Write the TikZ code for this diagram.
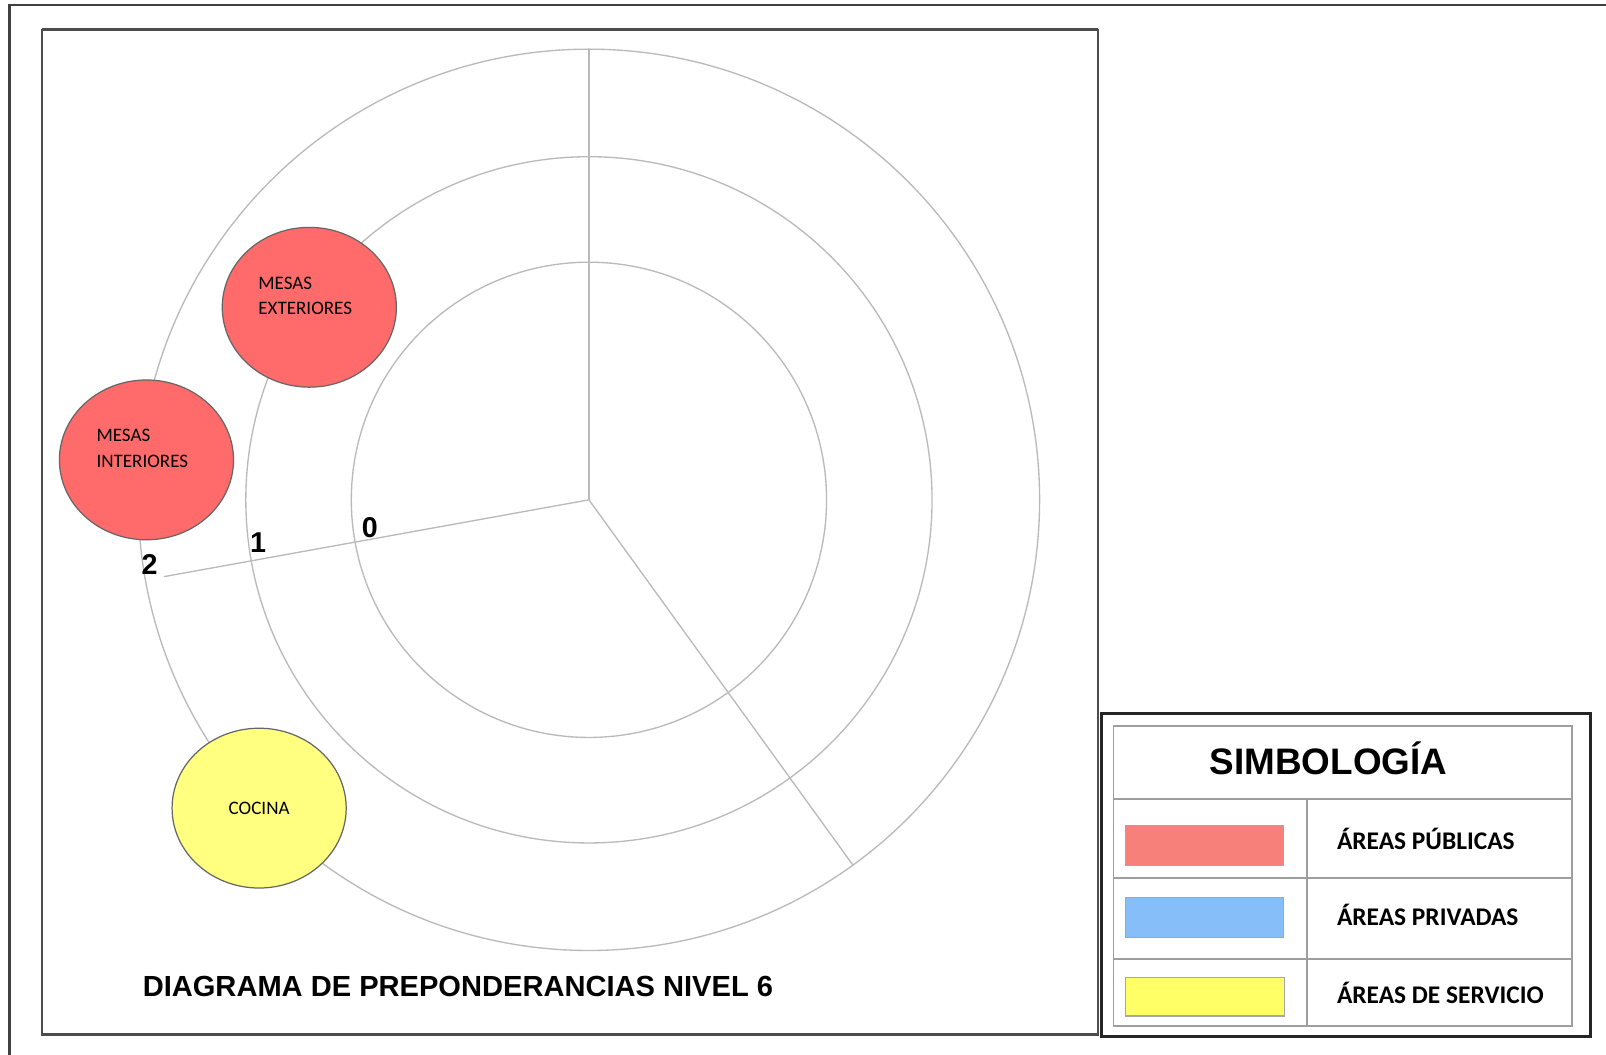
\documentclass[tikz,border=0pt]{standalone}
\usepackage{fontspec}
\setmainfont{Carlito}
\newfontfamily\arialfont{Liberation Sans}
\usetikzlibrary{shapes.geometric}
\definecolor{pubred}{HTML}{FF6B6B}
\definecolor{servyellow}{HTML}{FFFF80}
\definecolor{swred}{HTML}{F7807A}
\definecolor{swblue}{HTML}{85BEF8}
\definecolor{swyellow}{HTML}{FFFF66}

\begin{document}
\begin{tikzpicture}[x=0.5pt,y=0.5pt,
  ring/.style={draw=black!27,line width=0.65pt},
  zone/.style={ellipse,draw=black!60,line width=0.6pt,minimum width=85pt,minimum height=78pt,inner sep=0pt,align=left,font=\fontsize{9.3}{12.5}\selectfont},
  twoline/.style={text depth=11pt},
  level/.style={font=\arialfont\bfseries\fontsize{14}{14}\selectfont},
  grid/.style={draw=black!38,line width=0.8pt},
  swatch/.style={draw=black!35,line width=0.6pt},
  entry/.style={anchor=west,inner sep=0pt,font=\bfseries\fontsize{12.4}{14}\selectfont}]
\useasboundingbox (0,0) rectangle (1568,1030);
\fill[white] (0,0) rectangle (1568,1030);
\draw[black!75,line width=1.3pt] (9,-20) -- (9,1025) -- (1600,1025);
\draw[black!70,line width=1pt] (41,20) rectangle (1072,1001); \draw[black!70,line width=1.6pt] (41,1001) -- (1072,1001);
% rings and sectors
\coordinate (c) at (575,542);
\foreach \r in {232,335,440} \draw[ring] (c) circle (\r);
\coordinate (top) at (575,982); \coordinate (low) at (833,185); \coordinate (west) at (160,467);
\draw[ring] (c) -- (top); \draw[ring] (c) -- (low); \draw[ring] (c) -- (west);
\node[level] (n0) at (361,515) {0}; \node[level] (n1) at (252,500) {1}; \node[level] (n2) at (146,479) {2};
% zones
\node[zone,twoline,fill=pubred] (ext) at (302,730) {MESAS\\EXTERIORES\hspace*{4pt}};
\node[zone,twoline,fill=pubred] (int) at (143,581) {MESAS\\INTERIORES\hspace*{4pt}};
\node[zone,fill=servyellow] (coc) at (253,241) {COCINA};
\node[anchor=west,inner sep=0pt,font=\arialfont\bfseries\fontsize{14.2}{16}\selectfont] (title) at (139,67) {DIAGRAMA DE PREPONDERANCIAS NIVEL 6};
% legend
\draw[black!85,line width=1.5pt] (1075,18) rectangle (1553,333);
\draw[grid] (1087,28) rectangle (1535,321);
\draw[grid] (1087,250) -- (1535,250); \draw[grid] (1087,173) -- (1535,173); \draw[grid] (1087,94) -- (1535,94); \draw[grid] (1276,28) -- (1276,250);
\node[font=\arialfont\bfseries\fontsize{18}{20}\selectfont] (legtitle) at (1297,290) {SIMBOLOGÍA};
\draw[swatch,fill=swred] (1099,185) rectangle (1253,224); \node[entry] (pub) at (1305,211) {ÁREAS PÚBLICAS};
\draw[swatch,fill=swblue] (1099,115) rectangle (1253,154); \node[entry] (priv) at (1305,137) {ÁREAS PRIVADAS};
\draw[swatch,fill=swyellow] (1099,38) rectangle (1254,76); \node[entry] (serv) at (1305,61) {ÁREAS DE SERVICIO};
\end{tikzpicture}
\end{document}
